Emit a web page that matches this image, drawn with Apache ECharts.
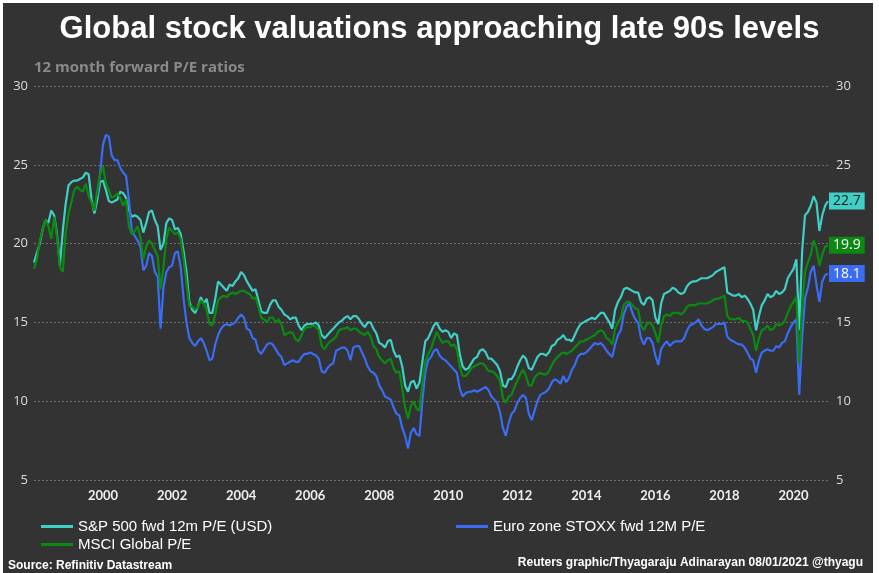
<!DOCTYPE html>
<html><head><meta charset="utf-8">
<script src="https://cdn.jsdelivr.net/npm/echarts@6/dist/echarts.min.js"></script>
<style>
html,body{margin:0;padding:0;background:#fff;width:879px;height:573px;overflow:hidden;}
#bg{position:absolute;left:3px;top:3px;width:870px;height:570px;background:#333333;}
#c{position:absolute;left:0;top:0;width:879px;height:573px;}
</style></head><body><div id="bg"></div><div id="c"></div>
<script>
// Monthly 12-month forward P/E, first value = Jan 1998
const startYear = 1998;
const euroStart = 1999 + 10/12; // Euro zone series starts Nov 1999
const yTicks = [5, 10, 15, 20, 25, 30];
const xTickYears = [2000, 2002, 2004, 2006, 2008, 2010, 2012, 2014, 2016, 2018, 2020];
const seriesNames = ['S&P 500 fwd 12m P/E (USD)', 'Euro zone STOXX fwd 12M P/E', 'MSCI Global P/E'];

const spx = [
 18.8,19.4,20.0,20.9,21.5,21.3,22.1,21.8,20.6,18.6,20.8,22.5, // 1998
 23.7,23.9,24.0,24.0,24.1,24.2,24.5,24.4,22.8,21.9,22.8,23.9, // 1999
 24.0,23.4,22.7,22.6,22.7,22.8,23.3,23.2,22.9,22.1,21.7,21.8, // 2000
 21.7,21.5,20.7,21.3,22.0,22.1,21.5,21.1,19.6,20.0,21.3,21.6, // 2001
 21.5,20.9,21.0,20.6,19.5,18.2,16.3,15.8,15.6,16.0,16.6,16.2, // 2002
 16.5,15.6,15.6,16.5,17.6,17.4,17.2,17.0,17.4,17.3,17.6,17.8, // 2003
 18.2,18.0,17.6,17.3,17.0,17.1,16.4,15.7,15.6,15.6,16.1,16.4, // 2004
 16.4,16.0,15.8,15.5,15.4,15.2,15.3,15.3,14.8,14.5,14.8,14.9, // 2005
 14.9,14.9,15.0,14.8,14.2,14.0,14.2,14.4,14.6,14.8,15.0,15.1, // 2006
 15.3,15.4,15.2,15.4,15.4,15.2,14.9,14.7,15.0,15.0,14.6,14.3, // 2007
 13.7,13.6,13.4,13.8,13.9,13.2,12.8,12.9,12.2,11.0,10.6,11.2, // 2008
 11.3,10.8,11.2,12.5,13.8,14.0,14.4,14.8,15.0,14.6,14.4,14.5, // 2009
 14.4,14.0,14.3,14.2,13.0,12.2,12.0,12.1,12.4,12.7,12.8,13.2, // 2010
 13.3,13.1,12.7,12.7,12.5,12.3,11.9,11.0,10.9,11.4,11.4,11.7, // 2011
 12.2,12.6,12.9,12.7,12.1,12.0,12.4,12.8,13.0,13.0,12.9,13.1, // 2012
 13.5,13.6,13.9,14.0,14.2,13.9,13.9,13.8,14.2,14.6,14.9,15.0, // 2013
 15.1,15.2,15.3,15.2,15.4,15.6,15.6,15.3,15.0,14.6,15.8,16.3, // 2014
 16.6,17.1,17.2,17.1,17.0,16.9,16.9,16.3,16.1,16.5,16.6,16.4, // 2015
 15.3,14.9,16.2,16.8,16.9,17.0,17.2,17.1,16.9,16.8,16.9,17.3, // 2016
 17.5,17.6,17.6,17.7,17.8,17.8,17.8,17.9,18.0,18.2,18.3,18.4, // 2017
 18.5,16.9,16.8,16.7,16.7,16.8,16.6,16.7,16.5,16.2,15.8,14.5, // 2018
 15.4,16.1,16.4,16.8,16.6,16.7,17.0,16.8,16.9,17.1,17.8,18.1, // 2019
 18.4,19.0,14.5,19.5,21.8,22.0,22.4,23.0,22.6,20.8,21.8,22.4, // 2020
 22.7                                                          // Jan 2021
];

const msci = [
 18.4,19.0,20.2,20.9,21.5,21.1,20.3,21.7,20.4,18.5,18.2,20.7, // 1998
 21.9,22.6,23.4,23.6,23.4,23.3,23.8,23.0,22.6,22.1,23.4,24.4, // 1999
 24.9,23.8,23.4,22.9,23.0,23.2,22.9,22.4,22.8,21.1,20.6,20.8, // 2000
 21.1,20.4,19.0,19.8,20.2,20.0,19.6,19.2,17.1,18.5,20.3,21.0, // 2001
 20.8,20.6,20.7,20.3,19.0,17.5,16.0,16.0,15.8,16.0,16.4,16.2, // 2002
 15.8,14.9,14.8,15.5,16.4,16.6,16.7,16.6,16.8,16.9,16.8,16.9, // 2003
 17.0,17.0,16.9,16.8,16.5,16.6,16.0,15.3,15.2,15.0,15.3,15.3, // 2004
 15.0,15.2,14.9,14.2,14.3,14.4,14.3,13.9,13.8,14.2,14.6,14.7, // 2005
 14.7,14.8,14.7,14.5,13.5,13.3,13.6,13.8,13.9,14.1,14.5,14.6, // 2006
 14.6,14.7,14.5,14.6,14.6,14.4,14.3,14.2,14.4,14.1,13.5,13.3, // 2007
 12.8,12.6,12.4,12.6,12.7,12.1,11.8,11.9,10.8,9.6,8.9,9.7,    // 2008
 10.0,9.5,9.4,11.2,12.5,13.0,13.3,13.9,14.4,14.0,13.7,13.8,   // 2009
 13.8,13.5,13.6,13.3,12.2,11.6,11.6,11.8,12.1,12.2,12.3,12.4, // 2010
 12.4,12.2,11.9,11.9,11.8,11.6,11.3,10.2,9.9,10.3,10.4,10.9,  // 2011
 11.3,11.7,12.0,11.6,11.0,11.0,11.5,11.7,11.8,11.7,11.7,11.9, // 2012
 12.3,12.6,12.8,13.0,13.1,13.0,13.1,13.2,13.4,13.6,13.8,13.8, // 2013
 13.9,14.0,14.1,14.2,14.4,14.5,14.4,14.0,13.9,13.6,14.6,15.0, // 2014
 15.3,16.1,16.3,16.3,16.1,15.9,15.8,14.8,14.5,14.9,15.0,14.8, // 2015
 14.3,13.7,14.8,15.4,15.5,15.4,15.6,15.6,15.6,15.5,15.7,16.0, // 2016
 16.1,16.1,16.1,16.2,16.2,16.2,16.2,16.3,16.4,16.5,16.5,16.6, // 2017
 16.7,15.4,15.2,15.2,15.2,15.3,15.1,15.1,15.0,14.6,14.2,13.2, // 2018
 14.0,14.5,14.6,14.8,14.5,14.6,14.9,14.8,14.9,15.1,15.6,16.0, // 2019
 16.3,16.6,12.4,16.0,18.2,18.8,19.3,20.2,19.7,18.6,19.3,19.8, // 2020
 19.9                                                          // Jan 2021
];

const euro = [
 23.0,24.5,                                                    // Nov-Dec 1999
 26.3,26.9,26.8,25.6,25.3,25.3,24.8,24.5,24.3,22.8,20.8,20.5, // 2000
 20.2,19.8,18.3,18.6,19.4,19.2,18.2,17.9,14.6,17.2,18.2,18.5, // 2001
 18.6,19.4,19.5,18.5,16.5,15.0,14.0,13.7,13.5,13.8,14.0,13.7, // 2002
 13.2,12.6,12.7,13.6,14.2,14.6,14.8,14.9,14.8,14.9,15.0,15.3, // 2003
 15.5,15.3,14.6,14.5,14.0,13.9,13.2,13.0,13.3,13.6,13.7,13.6, // 2004
 13.3,13.0,12.8,12.3,12.4,12.5,12.6,12.5,12.5,12.8,13.0,13.0, // 2005
 13.1,13.0,12.9,12.7,11.9,11.8,12.1,12.3,12.4,13.2,13.3,13.4, // 2006
 13.4,13.2,12.6,13.4,13.5,13.5,13.1,12.7,12.2,11.9,11.8,11.6, // 2007
 11.0,10.7,10.3,10.2,10.1,9.6,9.2,9.1,8.3,7.8,7.0,8.0,        // 2008
 8.3,7.9,7.8,10.0,11.8,12.6,12.8,13.2,13.3,12.9,12.7,12.6,    // 2009
 12.4,12.2,12.0,11.8,10.8,10.3,10.5,10.6,10.6,10.7,10.6,10.7, // 2010
 10.8,10.9,10.7,10.3,10.1,9.9,9.3,8.3,7.8,8.6,9.2,9.4,        // 2011
 9.9,10.2,10.4,10.2,9.2,8.8,9.4,10.0,10.4,10.5,10.6,10.8,     // 2012
 11.2,11.4,11.3,11.1,11.6,11.2,11.5,12.0,12.3,12.8,13.0,13.0, // 2013
 13.1,13.3,13.5,13.7,13.6,13.7,13.5,13.2,13.0,12.8,13.6,14.2, // 2014
 14.5,15.5,16.0,16.2,15.6,15.2,15.0,14.0,13.6,14.0,14.0,13.7, // 2015
 12.9,12.3,13.3,13.6,13.8,13.5,13.7,13.8,13.8,13.8,14.0,14.5, // 2016
 14.8,14.9,15.0,15.2,14.8,14.6,14.5,14.6,14.7,14.9,14.9,14.9, // 2017
 15.0,14.1,13.9,13.8,13.7,13.6,13.6,13.4,13.1,12.7,12.6,11.8, // 2018
 12.6,13.1,13.2,13.3,13.2,13.2,13.5,13.4,13.7,13.8,14.3,14.7, // 2019
 15.0,15.2,10.4,14.0,16.5,17.2,18.2,18.6,17.4,16.3,17.6,18.0, // 2020
 18.1                                                          // Jan 2021
];

const colors = { spx: '#3fcfc6', euro: '#3a6cf4', msci: '#0b8a12' };
const labelText = { spx: '#1a1a1a', euro: '#ffffff', msci: '#ffffff' };

function toPairs(arr, start) { return arr.map((v, i) => [start + i / 12, v]); }

const SANS = "'Liberation Sans',Arial,sans-serif";

function mkSeries(name, arr, start, key) {
  return {
    name: name, type: 'line', data: toPairs(arr, start), showSymbol: false,
    lineStyle: { width: 2.2, color: colors[key] }, itemStyle: { color: colors[key] },
    emphasis: { disabled: true },
    endLabel: {
      show: true, formatter: p => p.value[1].toFixed(1),
      backgroundColor: colors[key], color: labelText[key],
      fontSize: 14, fontFamily: "'Open Sans',sans-serif",
      padding: [2, 4, 1, 4], distance: 1
    }
  };
}

const chart = echarts.init(document.getElementById('c'), null, { renderer: 'canvas' });
chart.setOption({
  animation: false,
  backgroundColor: 'transparent',
  title: [
    { text: 'Global stock valuations approaching late 90s levels', left: 'center', top: 9,
      textStyle: { color: '#ffffff', fontSize: 31, fontWeight: 'bold', fontFamily: SANS } },
    { text: '12 month forward P/E ratios', left: 29, top: 55,
      textStyle: { color: '#8a8a8a', fontSize: 15, fontWeight: 'bold', fontFamily: "'Open Sans',sans-serif" } },
    { text: 'Source: Refinitiv Datastream', left: 3, top: 555,
      textStyle: { color: '#ffffff', fontSize: 12, fontWeight: 'bold', fontFamily: SANS } },
    { text: 'Reuters graphic/Thyagaraju Adinarayan 08/01/2021 @thyagu', right: 11, top: 552,
      textStyle: { color: '#ffffff', fontSize: 12, fontWeight: 'bold', fontFamily: SANS } }
  ],
  legend: [
    { data: [seriesNames[0], seriesNames[2]], orient: 'vertical', left: 36, top: 514,
      itemWidth: 32, itemHeight: 3, itemGap: 3, icon: 'rect',
      textStyle: { color: '#ffffff', fontSize: 15, fontFamily: SANS } },
    { data: [seriesNames[1]], orient: 'vertical', left: 451, top: 514,
      itemWidth: 32, itemHeight: 3, icon: 'rect',
      textStyle: { color: '#ffffff', fontSize: 15, fontFamily: SANS } }
  ],
  grid: { left: 34, right: 51, top: 86, bottom: 93, containLabel: false },
  xAxis: {
    type: 'value', min: startYear, max: 2021, interval: 2,
    axisLine: { show: false }, axisTick: { show: false }, splitLine: { show: false },
    axisLabel: {
      color: '#eeeeee', fontSize: 13, fontWeight: 'bold', fontFamily: 'Lato, sans-serif', margin: 9,
      formatter: v => (xTickYears.indexOf(v) >= 0 ? String(v) : '')
    }
  },
  yAxis: [
    { type: 'value', min: yTicks[0], max: yTicks[yTicks.length - 1], interval: 5, position: 'left',
      axisLine: { show: false }, axisTick: { show: false },
      splitLine: { show: true, lineStyle: { color: '#707070', type: [2, 2], width: 1 } },
      axisLabel: { color: '#dddddd', fontSize: 13, fontFamily: "'Open Sans',sans-serif", margin: 6 } },
    { type: 'value', min: yTicks[0], max: yTicks[yTicks.length - 1], interval: 5, position: 'right',
      axisLine: { show: false }, axisTick: { show: false }, splitLine: { show: false },
      axisLabel: { color: '#dddddd', fontSize: 13, fontFamily: "'Open Sans',sans-serif", margin: 8 } }
  ],
  series: [
    mkSeries(seriesNames[0], spx, startYear, 'spx'),
    mkSeries(seriesNames[1], euro, euroStart, 'euro'),
    mkSeries(seriesNames[2], msci, startYear, 'msci')
  ]
});
</script></body></html>
